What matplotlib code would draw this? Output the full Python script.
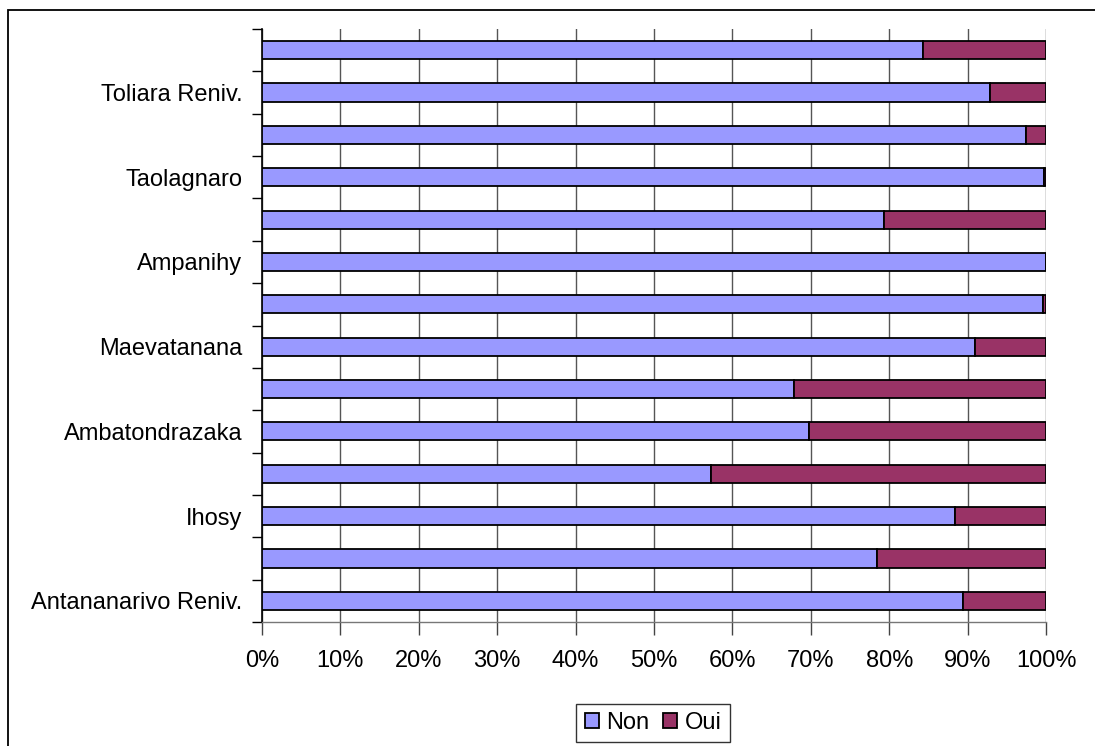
import matplotlib
matplotlib.use("Agg")
import matplotlib.pyplot as plt
from matplotlib.patches import Rectangle
from matplotlib.ticker import FixedLocator, FuncFormatter

plt.rcParams['font.family'] = ['Liberation Sans', 'DejaVu Sans']

# Categories from bottom to top (unlabelled ones are hidden in the reference)
categories = ["Antananarivo Reniv.", "", "Ihosy", "", "Ambatondrazaka", "",
              "Maevatanana", "", "Ampanihy", "", "Taolagnaro", "",
              "Toliara Reniv.", ""]
non = [89.4, 78.5, 88.4, 57.3, 69.8, 67.9, 90.9, 99.6, 100.0, 79.3, 99.7, 97.5, 92.8, 84.3]
oui = [100 - v for v in non]
xticks = [0, 10, 20, 30, 40, 50, 60, 70, 80, 90, 100]

W, H = 1095, 746
FS = 17
fig = plt.figure(figsize=(W / 100, H / 100), dpi=100)
fig.patch.set_facecolor('white')

# outer chart frame
fig.patches.append(Rectangle((8 / W, -0.05), 1.2, 1 - 10 / H + 0.05,
                             transform=fig.transFigure, fill=False,
                             edgecolor='black', linewidth=1.3))

ax = fig.add_axes([262 / W, 1 - 622 / H, (1046 - 262) / W, (622 - 29) / H])
y = list(range(len(categories)))
h = 0.43
b1 = ax.barh(y, non, height=h, color='#9999FF', edgecolor='black', linewidth=1.3, label='Non', zorder=3)
b2 = ax.barh(y, oui, left=non, height=h, color='#993366', edgecolor='black', linewidth=1.3, label='Oui', zorder=3)

ax.set_xlim(0, 100)
ax.set_ylim(-0.5, len(categories) - 0.5)
ax.xaxis.set_major_locator(FixedLocator(xticks))
ax.xaxis.set_major_formatter(FuncFormatter(lambda v, p: f"{int(v)}%"))
ax.grid(axis='x', color='#555555', linewidth=1.0, zorder=0)

# y ticks at category boundaries, labels at centres
ax.set_yticks([i - 0.5 for i in range(len(categories) + 1)])
ax.set_yticklabels([])
ax.set_yticks(y, minor=True)
ax.set_yticklabels(categories, minor=True)
ax.tick_params(axis='y', which='minor', length=0, pad=14, labelsize=FS)
ax.tick_params(axis='y', which='major', length=7, width=1, direction='out')
ax.tick_params(axis='x', length=9, width=1, direction='out', pad=11, labelsize=FS, color='#444444')

for s in ['top', 'right']:
    ax.spines[s].set_visible(False)
ax.spines['left'].set_color('black')
ax.spines['left'].set_linewidth(1.2)
ax.spines['bottom'].set_color('#777777')
ax.spines['bottom'].set_linewidth(1.0)

leg = fig.legend(handles=[b1, b2], labels=['Non', 'Oui'], loc='center',
                 bbox_to_anchor=(653 / W, 1 - 723 / H), ncol=2, frameon=True,
                 fancybox=False, edgecolor='black', fontsize=FS,
                 handlelength=0.6, handleheight=0.6, handletextpad=0.3,
                 columnspacing=0.6, borderpad=0.35)
leg.get_frame().set_linewidth(1.0)

fig.savefig('out.png', dpi=100, facecolor='white')
